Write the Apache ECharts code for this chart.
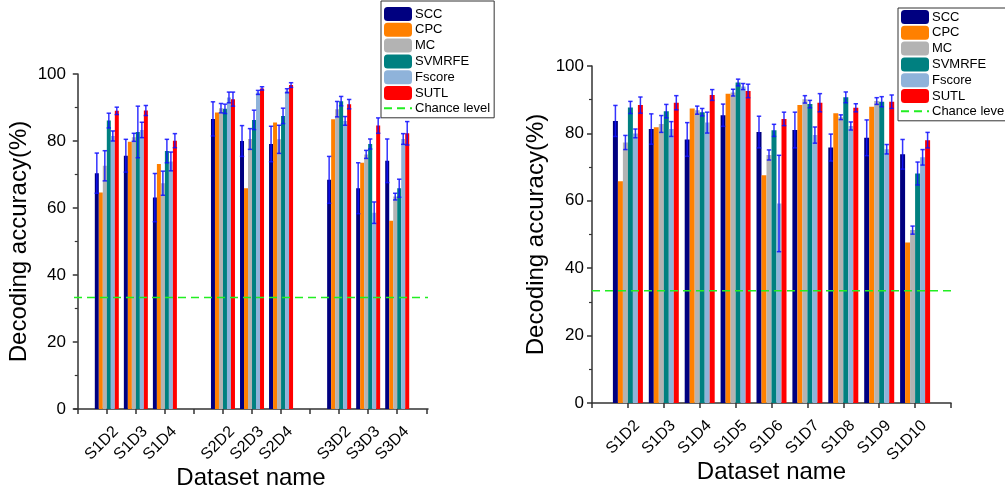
<!DOCTYPE html>
<html>
<head>
<meta charset="utf-8">
<script src="https://cdn.jsdelivr.net/npm/echarts@6/dist/echarts.min.js"></script>
<style>
  html, body { margin: 0; padding: 0; background: #fff; }
  #chart { width: 1005px; height: 491px; }
</style>
</head>
<body>
<div id="chart"></div>
<script>
// methods, in legend order
var methods = ['SCC', 'CPC', 'MC', 'SVMRFE', 'Fscore', 'SUTL'];
var colors = ['#000080', '#ff8000', '#b3b3b3', '#008080', '#8fb3da', '#ff0000'];
var chanceLevel = 33.3;

// left panel: categories and their x slot (gaps between subjects)
var leftCats = ['S1D2', 'S1D3', 'S1D4', 'S2D2', 'S2D3', 'S2D4', 'S3D2', 'S3D3', 'S3D4'];
var leftPos = [1, 2, 3, 5, 6, 7, 9, 10, 11];
// rows follow methods
var leftMeans = [
  [70.4, 75.6, 63.1, 86.6, 80.0, 79.1, 68.4, 65.9, 74.1],
  [64.6, 79.8, 73.1, 88.5, 65.9, 85.5, 86.5, 73.5, 56.2],
  [72.6, 81.1, 67.4, 89.8, 80.6, 80.5, 89.5, 76.0, 63.4],
  [86.1, 82.7, 77.0, 89.6, 86.3, 87.5, 91.9, 79.1, 65.9],
  [81.5, 83.3, 73.9, 93.0, 94.5, 95.0, 86.0, 58.6, 80.6],
  [89.0, 89.1, 80.1, 92.5, 95.7, 96.7, 91.0, 84.6, 82.3]
];
var leftErrs = [
  [6.0, 4.9, 7.2, 5.1, 4.6, 5.3, 7.0, 7.6, 6.5],
  [0, 0, 0, 0, 0, 0, 0, 0, 0],
  [4.5, 1.2, 3.6, 1.4, 3.1, 4.2, 2.3, 1.2, 1.0],
  [2.2, 7.7, 3.5, 1.4, 2.9, 2.3, 1.4, 1.5, 2.7],
  [1.5, 2.3, 2.8, 1.6, 0.6, 0.6, 1.3, 3.2, 1.6],
  [1.1, 1.5, 2.1, 2.1, 0.5, 0.7, 1.4, 2.3, 3.5]
];

// right panel
var rightCats = ['S1D2', 'S1D3', 'S1D4', 'S1D5', 'S1D6', 'S1D7', 'S1D8', 'S1D9', 'S1D10'];
var rightPos = [1, 2, 3, 4, 5, 6, 7, 8, 9];
var rightMeans = [
  [83.7, 81.3, 78.2, 85.4, 80.4, 81.0, 75.8, 78.7, 73.8],
  [65.8, 81.8, 87.4, 91.8, 67.6, 88.4, 86.0, 87.9, 47.6],
  [77.3, 82.8, 86.9, 92.1, 73.6, 90.1, 84.8, 89.6, 51.3],
  [87.7, 86.6, 86.3, 95.1, 80.9, 88.7, 90.7, 89.4, 68.1],
  [80.0, 81.3, 83.2, 93.9, 59.2, 79.5, 82.2, 75.3, 72.9],
  [88.4, 89.1, 91.4, 92.6, 84.3, 89.1, 87.6, 89.4, 78.0]
];
var rightErrs = [
  [4.6, 4.5, 5.0, 3.3, 4.7, 5.3, 4.0, 5.3, 4.4],
  [0, 0, 0, 0, 0, 0, 0, 0, 0],
  [2.1, 2.5, 1.2, 1.0, 1.5, 1.1, 0.7, 1.0, 1.2],
  [1.8, 2.0, 1.1, 1.0, 1.8, 1.1, 1.6, 1.5, 3.4],
  [1.3, 2.2, 3.1, 0.9, 14.3, 2.4, 1.2, 1.4, 2.3],
  [2.4, 2.1, 1.6, 2.0, 2.0, 2.7, 1.2, 2.0, 2.3]
];

var font = "'Liberation Sans', Arial, sans-serif";
var axisCol = '#333';

var myChart = echarts.init(document.getElementById('chart'));

function xAxisOf (idx, min, max, pos, cats, nameGap) {
  return {
    type: 'value', gridIndex: idx, min: min, max: max,
    name: 'Dataset name', nameLocation: 'middle', nameGap: nameGap, nameMoveOverlap: false,
    nameTextStyle: { fontSize: 24, color: '#000', fontFamily: font },
    splitLine: { show: false },
    axisLine: { onZero: false, lineStyle: { color: axisCol, width: 1.5 } },
    axisTick: { customValues: [0, 1, 2, 3, 4, 5, 6, 7, 8, 9, 10, 11, 12].filter(function (v) { return v <= max }), length: 5, lineStyle: { color: axisCol, width: 1.5 } },
    axisLabel: {
      customValues: pos, rotate: 45, fontSize: 16, color: '#000', fontFamily: font, margin: 11,
      verticalAlign: 'top', padding: [5, 0, 0, 0],
      formatter: function (v) { var i = pos.indexOf(Math.round(v)); return i >= 0 ? cats[i] : '' }
    }
  }
}

function yAxisOf (idx, nameGap) {
  return {
    type: 'value', gridIndex: idx, min: 0, max: 100, interval: 20,
    name: 'Decoding accuracy(%)', nameLocation: 'middle', nameGap: nameGap,
    nameTextStyle: { fontSize: 24, color: '#000', fontFamily: font },
    splitLine: { show: false },
    axisLine: { show: true, lineStyle: { color: axisCol, width: 1.5 } },
    axisTick: { show: true, length: 5, lineStyle: { color: axisCol, width: 1.5 } },
    minorTick: { show: true, splitNumber: 2, length: 3, lineStyle: { color: axisCol, width: 1.2 } },
    axisLabel: { fontSize: 17, color: '#000', fontFamily: font, margin: 8 }
  }
}

function legendOf (left, top, padTop) {
  return {
    orient: 'vertical', left: left, top: top,
    data: methods.concat([{ name: 'Chance level', itemStyle: { opacity: 0 } }]),
    itemWidth: 28, itemHeight: 14, itemGap: 1.8,
    padding: [padTop, 4, 3, 2],
    borderColor: '#333', borderWidth: 1, backgroundColor: '#fff',
    textStyle: { fontSize: 13, color: '#000', fontFamily: font, padding: [0, 0, 0, -2] },
    selectedMode: false
  }
}

// error bars drawn through the axis scales, shifted onto each bar of the group
function errRender (barW) {
  return function (params, api) {
    var x = api.value(0), m = api.value(1), e = api.value(2), k = api.value(3)
    if (!e) return
    var off = (k - 2.5) * barW
    var hi = api.coord([x, m + e]), lo = api.coord([x, m - e])
    var cx = hi[0] + off, cap = 2.2
    var st = { stroke: '#1010ff', lineWidth: 1.5, opacity: 0.85 }
    return {
      type: 'group',
      children: [
        { type: 'line', shape: { x1: cx, y1: hi[1], x2: cx, y2: lo[1] }, style: st },
        { type: 'line', shape: { x1: cx - cap, y1: hi[1], x2: cx + cap, y2: hi[1] }, style: st },
        { type: 'line', shape: { x1: cx - cap, y1: lo[1], x2: cx + cap, y2: lo[1] }, style: st }
      ]
    }
  }
}

function panelSeries (idx, pos, means, errs, barW, xmin, xmax) {
  var out = []
  var errData = []
  methods.forEach(function (name, i) {
    out.push({
      name: name, type: 'bar', xAxisIndex: idx, yAxisIndex: idx,
      barWidth: barW, barGap: '0%',
      itemStyle: { color: colors[i] },
      data: pos.map(function (x, j) { return [x, means[i][j]] })
    })
    pos.forEach(function (x, j) { errData.push([x, means[i][j], errs[i][j], i]) })
  })
  out.push({
    name: 'err' + idx, type: 'custom', xAxisIndex: idx, yAxisIndex: idx, z: 5,
    renderItem: errRender(barW), encode: { x: 0, y: 1 }, data: errData
  })
  out.push({
    name: 'Chance level', type: 'line', xAxisIndex: idx, yAxisIndex: idx, z: 6,
    symbol: 'none', silent: true,
    lineStyle: { color: '#22ee22', width: 1.5, type: [8, 5] },
    itemStyle: { color: '#22ee22' },
    data: [[xmin, chanceLevel], [xmax, chanceLevel]]
  })
  return out
}

var option = {
  animation: false,
  backgroundColor: '#fff',
  textStyle: { fontFamily: font },
  grid: [
    { left: 74, top: 74, width: 354, height: 335, outerBoundsMode: 'none', containLabel: false },
    { left: 592, top: 66, width: 359, height: 337, outerBoundsMode: 'none', containLabel: false }
  ],
  xAxis: [
    xAxisOf(0, -0.13, 12.06, leftPos, leftCats, 57),
    xAxisOf(1, 0, 10, rightPos, rightCats, 57)
  ],
  yAxis: [yAxisOf(0, 43), yAxisOf(1, 44)],
  legend: [legendOf(381, 1, 6), legendOf(898, 8, 2)],
  series: panelSeries(0, leftPos, leftMeans, leftErrs, 4, -0.13, 12.06)
    .concat(panelSeries(1, rightPos, rightMeans, rightErrs, 5, 0, 10))
}

myChart.setOption(option)
</script>
</body>
</html>
